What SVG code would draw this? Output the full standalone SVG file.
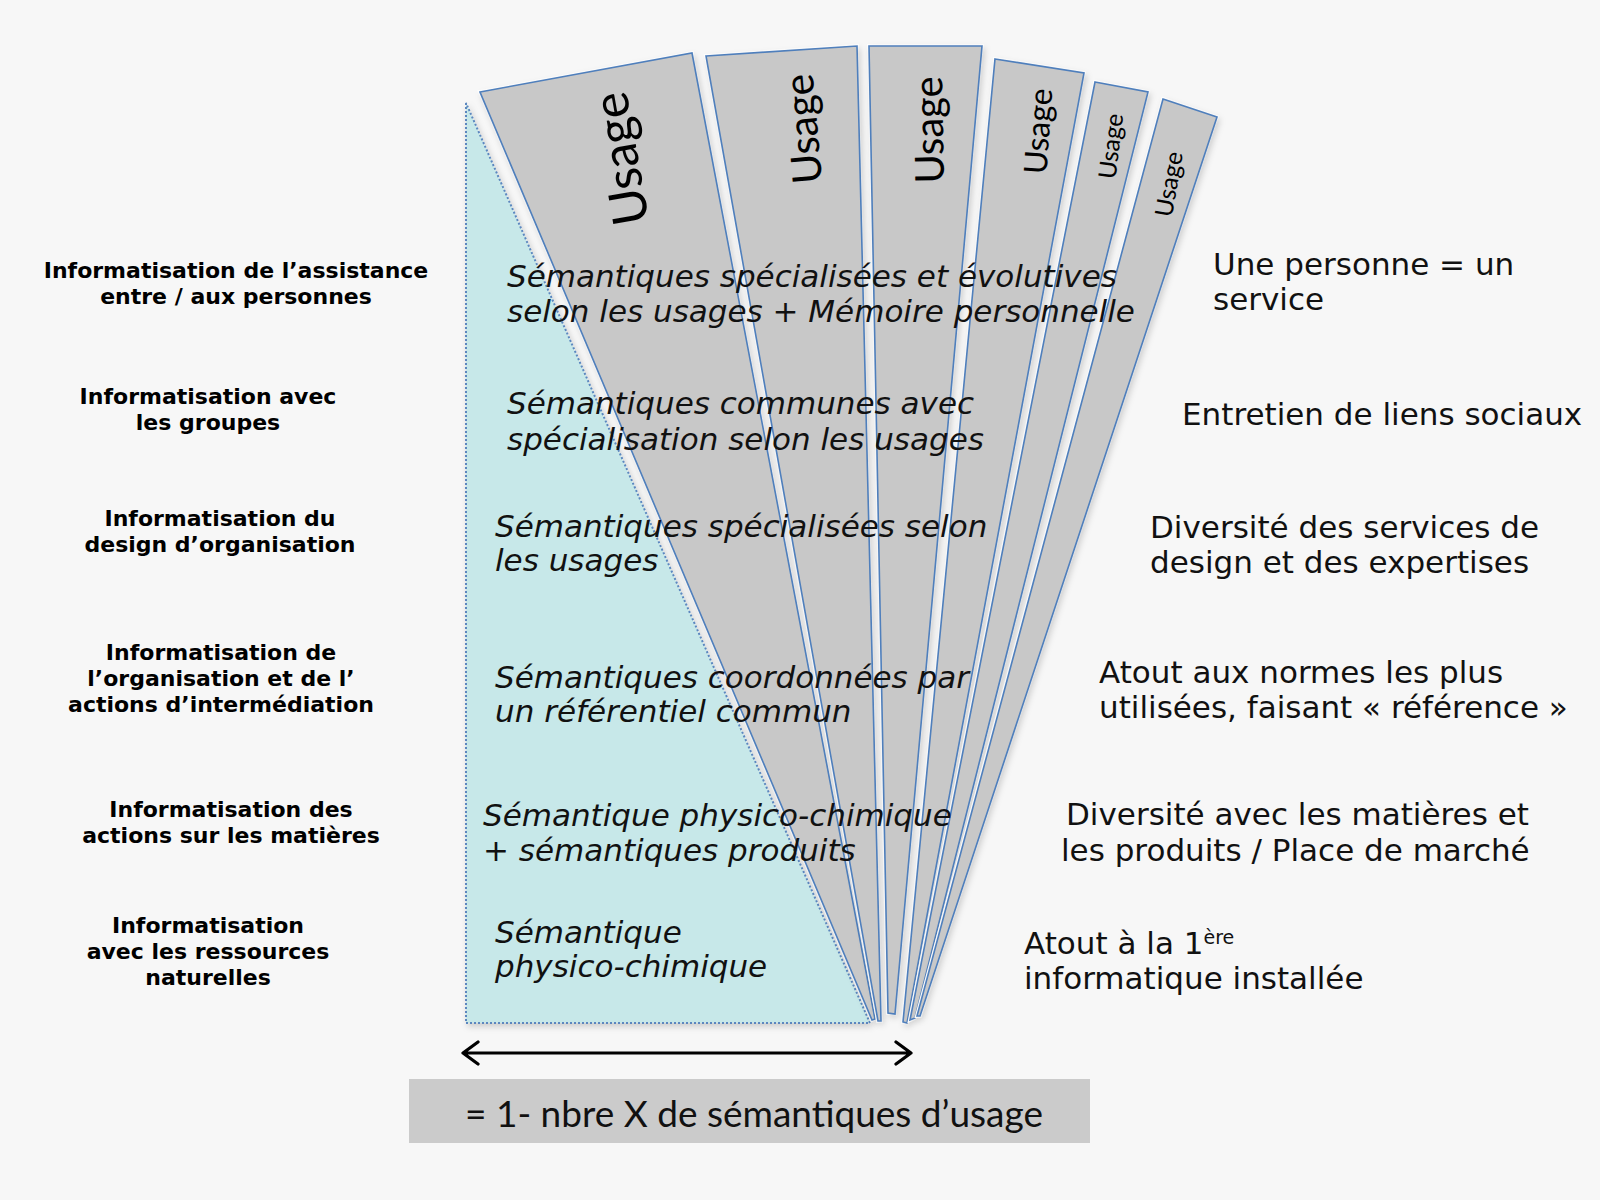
<svg xmlns="http://www.w3.org/2000/svg" width="1600" height="1200" viewBox="0 0 1600 1200">
<defs>
<style>
.lbl{font-family:"DejaVu Sans","Verdana",sans-serif;font-weight:bold;font-size:22px;fill:#000;text-anchor:middle}
.mid{font-family:"DejaVu Sans","Verdana",sans-serif;font-style:italic;font-size:31px;fill:#111}
.rt{font-family:"DejaVu Sans","Verdana",sans-serif;font-size:31px;fill:#111}
.usage{font-family:Lato,"Open Sans",sans-serif;fill:#000;text-anchor:middle;dominant-baseline:central}
.blade{fill:#c8c8c8;stroke:#4f7fbc;stroke-width:1.6;stroke-linejoin:miter}
.bladeu{fill:none;stroke:#ffffff;stroke-width:4}
.box{font-family:Lato,"Open Sans",sans-serif;font-size:37px;fill:#111;text-anchor:middle}
</style>
<filter id="sh" x="-10%" y="-10%" width="130%" height="130%">
<feDropShadow dx="2" dy="3" stdDeviation="3" flood-color="#000" flood-opacity="0.18"/>
</filter>
</defs>
<rect x="0" y="0" width="1600" height="1200" fill="#f7f7f7"/>

<g id="cyan-zone">
<polygon points="466,103 466,1023 870,1023" fill="#c7e8e9" stroke="#5b87bf" stroke-width="2" stroke-dasharray="2,2" filter="url(#sh)"/>
</g>

<g id="blades">
<g id="blade1">
<polygon class="bladeu" points="480,92 692,53 875,1019 872,1020"/>
<polygon class="blade" points="480,92 692,53 875,1019 872,1020" filter="url(#sh)"/>
<text class="usage" font-size="50" transform="translate(619,159) rotate(-100)">Usage</text>
</g>
<g id="blade2">
<polygon class="bladeu" points="706,56 857,46 881,1021 878,1021"/>
<polygon class="blade" points="706,56 857,46 881,1021 878,1021" filter="url(#sh)"/>
<text class="usage" font-size="41" transform="translate(802,129) rotate(-95)">Usage</text>
</g>
<g id="blade3">
<polygon class="bladeu" points="869,46 982,46 895,1014 888,1013"/>
<polygon class="blade" points="869,46 982,46 895,1014 888,1013" filter="url(#sh)"/>
<text class="usage" font-size="40" transform="translate(928,130) rotate(-91)">Usage</text>
</g>
<g id="blade4">
<polygon class="bladeu" points="995,59 1084,73 907,1023 903,1022"/>
<polygon class="blade" points="995,59 1084,73 907,1023 903,1022" filter="url(#sh)"/>
<text class="usage" font-size="32" transform="translate(1037,131) rotate(-86)">Usage</text>
</g>
<g id="blade5">
<polygon class="bladeu" points="1095,82 1148,92 915,1018 910,1020"/>
<polygon class="blade" points="1095,82 1148,92 915,1018 910,1020" filter="url(#sh)"/>
<text class="usage" font-size="24.5" transform="translate(1110,146) rotate(-83)">Usage</text>
</g>
<g id="blade6">
<polygon class="bladeu" points="1163,99 1217,117 920,1016 917,1016"/>
<polygon class="blade" points="1163,99 1217,117 920,1016 917,1016" filter="url(#sh)"/>
<text class="usage" font-size="24.5" transform="translate(1168,184) rotate(-80)">Usage</text>
</g>
</g>

<g id="left-labels">
<g id="lbl1"><text class="lbl" x="236" y="278">Informatisation de l’assistance</text><text class="lbl" x="236" y="304">entre / aux personnes</text></g>
<g id="lbl2"><text class="lbl" x="208" y="404">Informatisation avec</text><text class="lbl" x="208" y="430">les groupes</text></g>
<g id="lbl3"><text class="lbl" x="220" y="526">Informatisation du</text><text class="lbl" x="220" y="552">design d’organisation</text></g>
<g id="lbl4"><text class="lbl" x="221" y="660">Informatisation de</text><text class="lbl" x="221" y="686">l’organisation et de l’</text><text class="lbl" x="221" y="712">actions d’intermédiation</text></g>
<g id="lbl5"><text class="lbl" x="231" y="817">Informatisation des</text><text class="lbl" x="231" y="843">actions sur les matières</text></g>
<g id="lbl6"><text class="lbl" x="208" y="933">Informatisation</text><text class="lbl" x="208" y="959">avec les ressources</text><text class="lbl" x="208" y="985">naturelles</text></g>
</g>

<g id="semantics">
<g id="sem1"><text class="mid" x="507" y="287">Sémantiques spécialisées et évolutives</text><text class="mid" x="507" y="322">selon les usages + Mémoire personnelle</text></g>
<g id="sem2"><text class="mid" x="507" y="414">Sémantiques communes avec</text><text class="mid" x="507" y="450">spécialisation selon les usages</text></g>
<g id="sem3"><text class="mid" x="495" y="537">Sémantiques spécialisées selon</text><text class="mid" x="495" y="571">les usages</text></g>
<g id="sem4"><text class="mid" x="495" y="688">Sémantiques coordonnées par</text><text class="mid" x="495" y="722">un référentiel commun</text></g>
<g id="sem5"><text class="mid" x="483" y="826">Sémantique physico-chimique</text><text class="mid" x="483" y="861">+ sémantiques produits</text></g>
<g id="sem6"><text class="mid" x="495" y="943">Sémantique</text><text class="mid" x="495" y="977">physico-chimique</text></g>
</g>

<g id="right-labels">
<g id="rt1"><text class="rt" x="1213" y="275">Une personne = un</text><text class="rt" x="1213" y="310">service</text></g>
<g id="rt2"><text class="rt" x="1182" y="425">Entretien de liens sociaux</text></g>
<g id="rt3"><text class="rt" x="1150" y="538">Diversité des services de</text><text class="rt" x="1150" y="573">design et des expertises</text></g>
<g id="rt4"><text class="rt" x="1099" y="683">Atout aux normes les plus</text><text class="rt" x="1099" y="718">utilisées, faisant « référence »</text></g>
<g id="rt5"><text class="rt" x="1066" y="825">Diversité avec les matières et</text><text class="rt" x="1061" y="861">les produits / Place de marché</text></g>
<g id="rt6"><text class="rt" x="1024" y="954">Atout à la 1<tspan font-size="19" dy="-10">ère</tspan></text><text class="rt" x="1024" y="989">informatique installée</text></g>
</g>

<g id="connectors">
<path d="M463,1053 H911 M478,1042 L463,1053 L478,1064 M896,1042 L911,1053 L896,1064" fill="none" stroke="#000" stroke-width="3.2" stroke-linecap="round" stroke-linejoin="round"/>
</g>

<g id="formula">
<rect x="409" y="1079" width="681" height="64" fill="#cbcbcb"/>
<text class="box" x="754" y="1127">= 1- nbre X de sémantiques d’usage</text>
</g>
</svg>
